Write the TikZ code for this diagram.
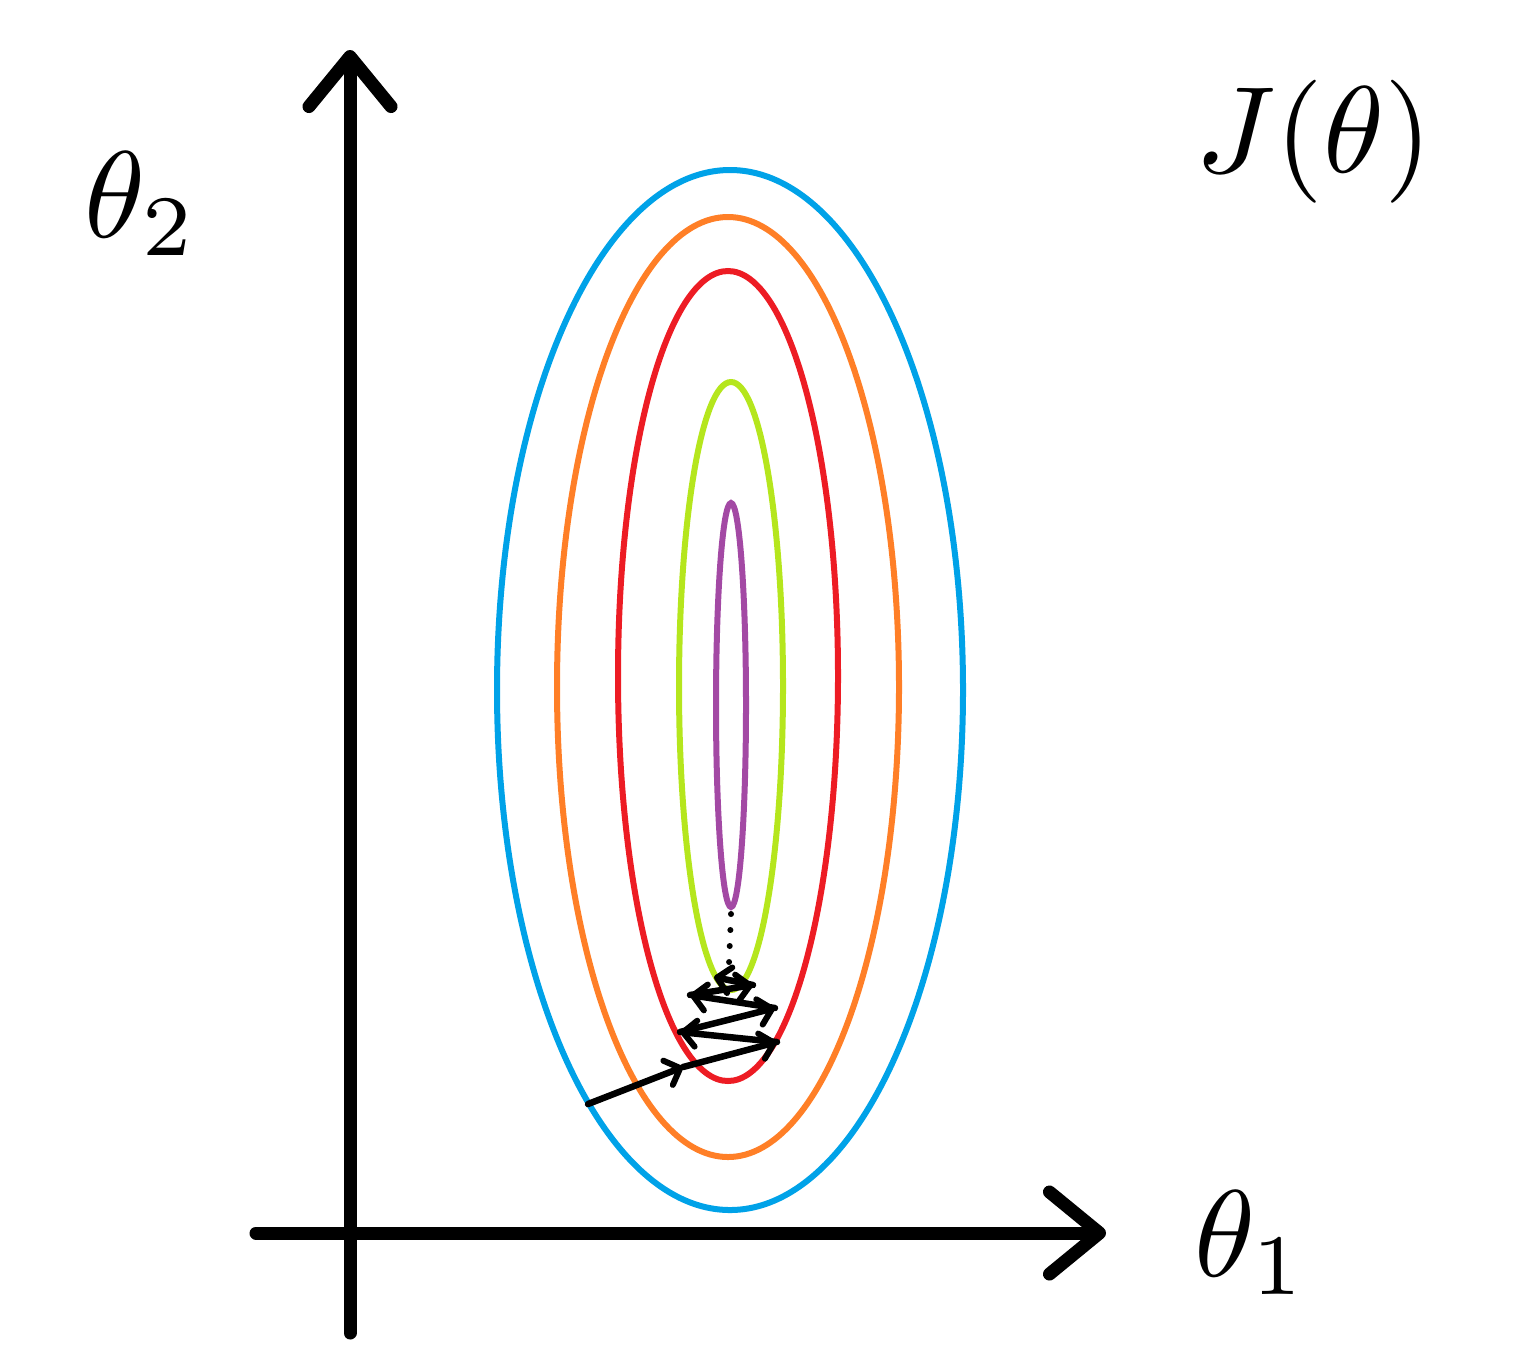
\documentclass[tikz,border=0pt]{standalone}
\usetikzlibrary{arrows.meta}
\definecolor{cblue}{RGB}{0,162,232}
\definecolor{corange}{RGB}{255,127,39}
\definecolor{cred}{RGB}{237,28,36}
\definecolor{cgreen}{RGB}{181,230,29}
\definecolor{cpurple}{RGB}{163,73,164}
\tikzset{
  axis/.style={line width=0.13cm, line cap=round, -{Straight Barb[length=0.5cm,width=0.82cm,line width=0.13cm,round]}},
  contour/.style={line width=0.06cm},
  stepline/.style={line width=0.065cm, line cap=round, -{Straight Barb[length=0.13cm,width=0.26cm,line width=0.06cm,round]}},
  lbl/.style={scale=3.5, inner sep=0pt}
}
\begin{document}
\begin{tikzpicture}[x=0.01cm,y=-0.01cm]
\useasboundingbox (0,0) rectangle (1531,1363);
% axes
\coordinate (ybot) at (350,1333);
\coordinate (ytop) at (350,50);
\coordinate (xleft) at (256,1233);
\coordinate (xright) at (1106,1233);
\draw[axis] (ybot) -- (ytop);
\draw[axis] (xleft) -- (xright);
% labels
\node[lbl] (t2) at (141,204) {$\theta_2$};
\node[lbl] (t1) at (1251,1243) {$\theta_1$};
\node[lbl] (J) at (1314,142) {$J(\theta)$};
% contours
\draw[contour, cblue] (730,690) ellipse [x radius=233, y radius=520];
\draw[contour, corange] (728,687) ellipse [x radius=171, y radius=470];
\draw[contour, cred] (728,676) ellipse [x radius=110, y radius=405];
\draw[contour, cgreen] (731,686) ellipse [x radius=52, y radius=304];
\draw[contour, cpurple] (731,705) ellipse [x radius=15, y radius=202];
% gradient steps
\coordinate (z0) at (588,1104);
\coordinate (zm) at (683,1067);
\coordinate (z1) at (777,1042);
\coordinate (z2) at (680,1032);
\coordinate (z3) at (775,1008);
\coordinate (z4) at (690,995);
\coordinate (z5) at (753,985);
\coordinate (z6) at (714,977);
\coordinate (d0) at (731,914);
\coordinate (d1) at (729,964);
\draw[stepline] (z0) -- (zm);
\draw[stepline] (zm) -- (z1);
\draw[stepline] (z1) -- (z2);
\draw[stepline] (z2) -- (z3);
\draw[stepline] (z3) -- (z4);
\draw[stepline] (z4) -- (z5);
\draw[stepline] (z5) -- (z6);
\draw[line width=0.06cm, line cap=round, dash pattern=on 0pt off 0.16cm] (d0) -- (d1);
\end{tikzpicture}
\end{document}
